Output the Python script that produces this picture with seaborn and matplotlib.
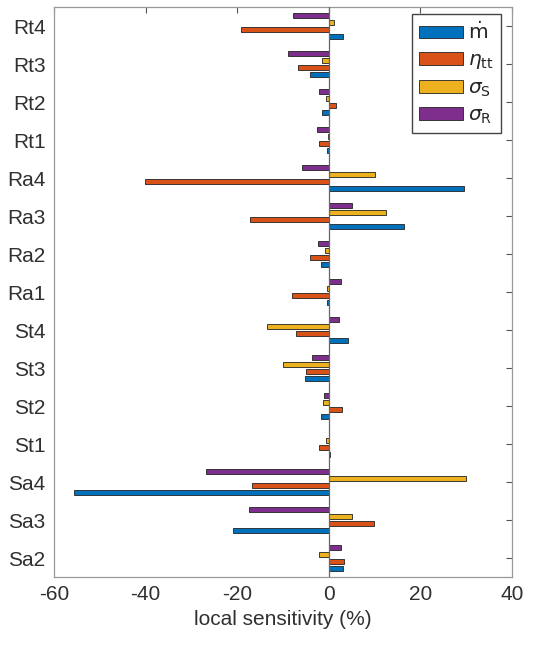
import matplotlib
matplotlib.use('Agg')

import pandas as pd
import seaborn as sns
import matplotlib.pyplot as plt

# categories, bottom to top
cats = ['Sa2', 'Sa3', 'Sa4', 'St1', 'St2', 'St3', 'St4',
        'Ra1', 'Ra2', 'Ra3', 'Ra4', 'Rt1', 'Rt2', 'Rt3', 'Rt4']

mdot = [3.1, -21.0, -55.7, 0.2, -1.7, -5.1, 4.1,
        -0.3, -1.7, 16.4, 29.6, -0.3, -1.4, -4.1, 3.2]
eta_tt = [3.3, 9.9, -16.8, -2.2, 2.8, -4.9, -7.2,
          -8.0, -4.1, -17.1, -40.1, -2.1, 1.5, -6.7, -19.1]
sigma_s = [-2.2, 5.1, 30.0, -0.6, -1.2, -10.0, -13.5,
           -0.3, -0.8, 12.5, 10.1, -0.1, -0.6, -1.4, 1.2]
sigma_r = [2.6, -17.4, -26.9, 0.15, -1.0, -3.6, 2.3,
           2.6, -2.3, 5.1, -5.9, -2.5, -2.1, -8.8, -7.8]

labels = [r'$\dot{\mathrm{m}}$', r'$\eta_{\mathrm{tt}}$',
          r'$\sigma_{\mathrm{S}}$', r'$\sigma_{\mathrm{R}}$']
colors = ['#0072BD', '#D95319', '#EDB120', '#7E2F8E']

df = pd.concat([
    pd.DataFrame({'cat': cats, 'value': vals, 'series': lab})
    for vals, lab in zip([mdot, eta_tt, sigma_s, sigma_r], labels)
])

sns.set_theme(style='white')
plt.rcParams['font.family'] = ['Liberation Sans', 'DejaVu Sans']
plt.rcParams['mathtext.fontset'] = 'dejavusans'
plt.rcParams['axes.unicode_minus'] = False

fig = plt.figure(figsize=(5.41, 6.45), dpi=100)
ax = fig.add_axes([0.0998, 0.1054, 0.8466, 0.8837])

sns.barplot(data=df, x='value', y='cat', hue='series', order=cats,
            hue_order=labels, palette=colors, orient='h', width=0.72,
            gap=0.22, edgecolor='#222222', linewidth=0.6, saturation=1,
            errorbar=None, ax=ax)

ax.axvline(0, color='#666666', lw=0.9, zorder=3)
ax.set_xlim(-60, 40)
ax.set_ylim(-0.5, 14.5)
ax.set_xticks([-60, -40, -20, 0, 20, 40])
ax.set_xlabel('local sensitivity (%)', fontsize=15, color='#303030')
ax.set_ylabel('')

for s in ax.spines.values():
    s.set_color('#999999')
    s.set_linewidth(0.9)
    s.set_visible(True)

ax.tick_params(direction='in', top=True, right=True, length=4,
               width=0.8, color='#555555', labelsize=15,
               labelcolor='#303030', pad=6)

ax.legend(loc='upper right', bbox_to_anchor=(0.975, 0.987), borderaxespad=0,
          fontsize=14.5, fancybox=False, edgecolor='#444444', framealpha=1,
          handlelength=2.2, handleheight=0.6, labelspacing=0.35,
          handletextpad=0.25, borderpad=0.35)

plt.savefig('out.png', dpi=100)
plt.close()
